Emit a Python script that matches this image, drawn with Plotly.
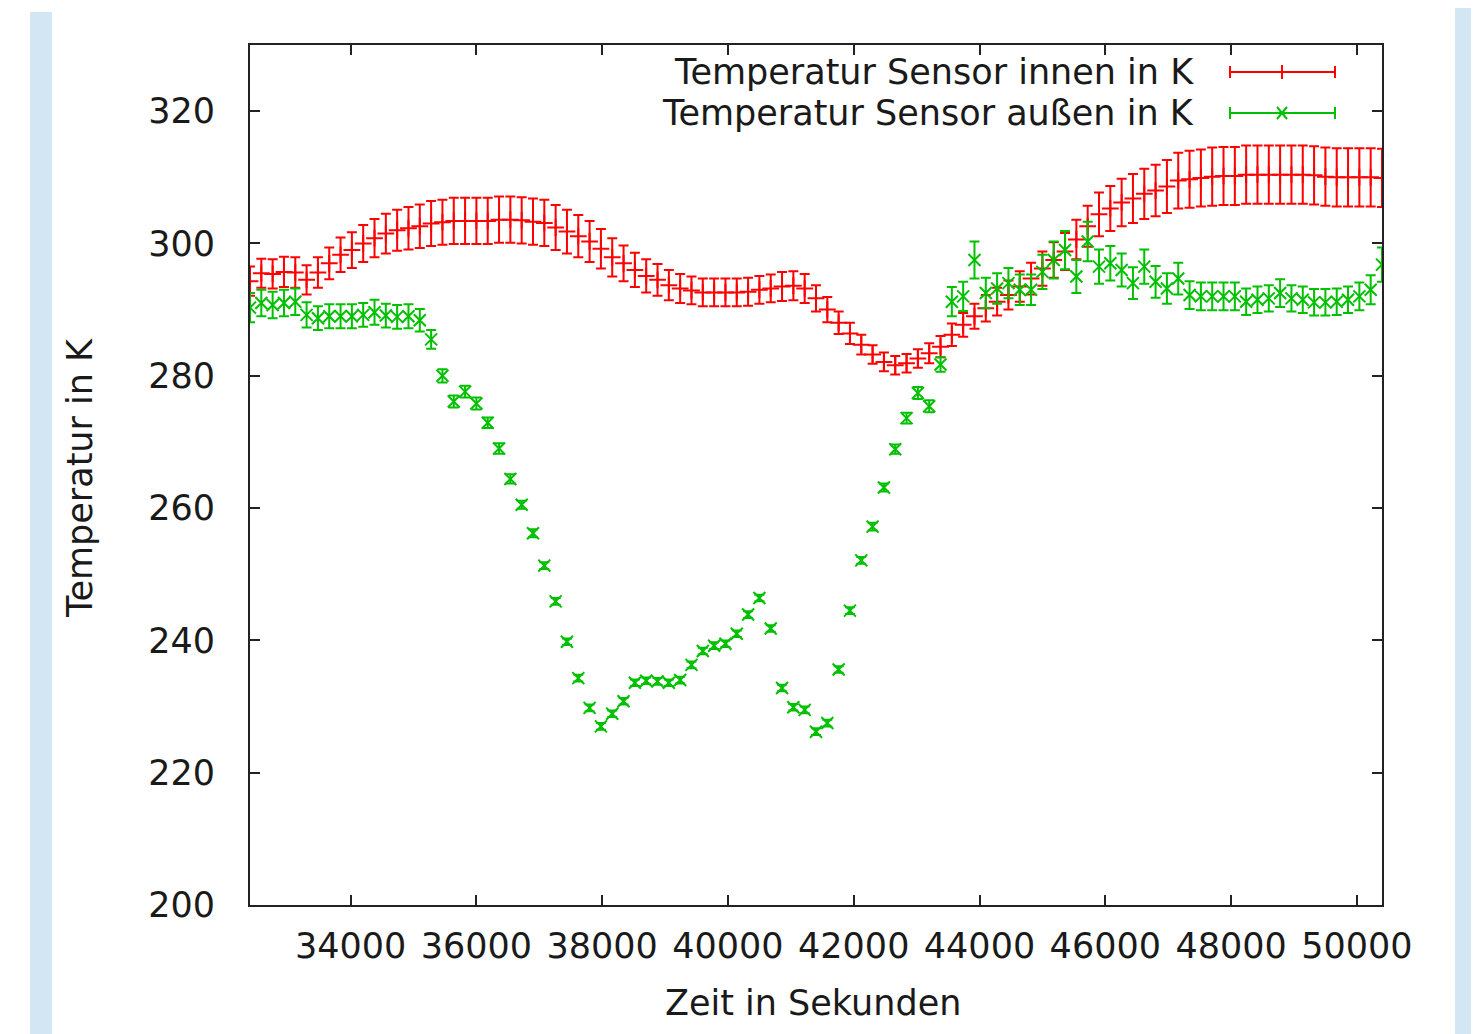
import plotly.graph_objects as go

# ---- data ----
zeit = [32400, 32580, 32760, 32940, 33120, 33300, 33480, 33660, 33840, 34020,
        34200, 34380, 34560, 34740, 34920, 35100, 35280, 35460, 35640, 35820,
        36000, 36180, 36360, 36540, 36720, 36900, 37080, 37260, 37440, 37620,
        37800, 37980, 38160, 38340, 38520, 38700, 38880, 39060, 39240, 39420,
        39600, 39780, 39960, 40140, 40320, 40500, 40680, 40860, 41040, 41220,
        41400, 41580, 41760, 41940, 42120, 42300, 42480, 42660, 42840, 43020,
        43200, 43380, 43560, 43740, 43920, 44100, 44280, 44460, 44640, 44820,
        45000, 45180, 45360, 45540, 45720, 45900, 46080, 46260, 46440, 46620,
        46800, 46980, 47160, 47340, 47520, 47700, 47880, 48060, 48240, 48420,
        48600, 48780, 48960, 49140, 49320, 49500, 49680, 49860, 50040, 50220,
        50400]

t_innen = [294.3, 295.5, 295.4, 295.7, 295.6, 294.5, 295.6, 297.0, 298.3, 299.0,
           300.0, 300.8, 301.5, 302.0, 302.3, 302.6, 303.0, 303.2, 303.4, 303.4,
           303.4, 303.4, 303.6, 303.6, 303.5, 303.3, 303.1, 302.4, 301.8, 301.1,
           300.3, 299.2, 297.9, 297.0, 296.0, 295.1, 294.5, 293.7, 293.2, 292.9,
           292.6, 292.6, 292.6, 292.6, 292.7, 293.0, 293.2, 293.5, 293.6, 293.2,
           291.7, 290.0, 288.0, 286.4, 284.7, 283.2, 282.1, 281.6, 281.9, 282.6,
           283.4, 284.4, 286.2, 287.7, 289.0, 290.2, 291.2, 292.2, 293.5, 294.7,
           296.2, 297.5, 298.8, 300.6, 302.6, 304.4, 305.3, 306.2, 306.8, 307.5,
           308.0, 308.6, 309.5, 309.7, 309.9, 310.1, 310.2, 310.2, 310.4, 310.4,
           310.4, 310.4, 310.4, 310.4, 310.3, 310.1, 310.0, 310.0, 310.0, 310.0,
           309.9]

err_innen = [2.2, 2.2, 2.2, 2.3, 2.3, 2.2, 2.3, 2.4, 2.6, 2.7,
             2.8, 2.9, 3.0, 3.1, 3.2, 3.3, 3.4, 3.4, 3.5, 3.5,
             3.5, 3.5, 3.5, 3.5, 3.5, 3.5, 3.5, 3.4, 3.3, 3.2,
             3.1, 3.0, 2.9, 2.7, 2.6, 2.5, 2.4, 2.3, 2.2, 2.1,
             2.1, 2.1, 2.1, 2.1, 2.1, 2.1, 2.1, 2.2, 2.2, 2.2,
             2.0, 1.9, 1.7, 1.6, 1.5, 1.4, 1.4, 1.4, 1.4, 1.4,
             1.5, 1.6, 1.7, 1.8, 1.9, 2.0, 2.1, 2.2, 2.3, 2.4,
             2.6, 2.7, 2.8, 3.0, 3.1, 3.3, 3.4, 3.6, 3.7, 3.8,
             3.9, 4.0, 4.2, 4.3, 4.3, 4.4, 4.4, 4.4, 4.4, 4.4,
             4.4, 4.4, 4.4, 4.4, 4.4, 4.4, 4.4, 4.4, 4.4, 4.4,
             4.4]

t_aussen = [290.3, 291.0, 290.7, 291.0, 291.2, 289.2, 288.7, 289.0, 289.0, 289.0,
            289.2, 289.6, 289.1, 288.9, 289.0, 288.4, 285.5, 280.0, 276.1, 277.6,
            275.8, 272.9, 269.0, 264.4, 260.5, 256.2, 251.3, 245.9, 239.8, 234.3,
            229.8, 227.0, 228.9, 230.8, 233.6, 233.9, 233.8, 233.6, 234.0, 236.3,
            238.4, 239.2, 239.5, 241.0, 243.9, 246.4, 241.8, 232.8, 229.9, 229.5,
            226.2, 227.5, 235.6, 244.5, 252.1, 257.2, 263.1, 268.9, 273.6, 277.4,
            275.4, 281.7, 291.2, 292.0, 297.5, 292.5, 293.2, 294.0, 293.0, 293.0,
            295.7, 297.5, 299.0, 295.0, 300.3, 296.5, 297.0, 296.0, 294.0, 296.5,
            294.2, 293.2, 294.7, 292.2, 292.0, 292.0, 292.0, 292.0, 291.2, 291.5,
            291.7, 292.5, 291.7, 291.5, 291.1, 291.1, 291.2, 291.5, 292.0, 293.0,
            296.8]

err_aussen = [2.2, 2.0, 2.0, 2.0, 2.0, 1.9, 1.8, 1.8, 1.8, 1.8,
              1.8, 1.9, 1.8, 1.8, 1.8, 1.7, 1.4, 1.0, 0.9, 0.9,
              0.9, 0.8, 0.8, 0.7, 0.6, 0.6, 0.5, 0.5, 0.5, 0.5,
              0.5, 0.5, 0.5, 0.5, 0.5, 0.5, 0.5, 0.5, 0.5, 0.5,
              0.5, 0.5, 0.5, 0.5, 0.5, 0.5, 0.5, 0.5, 0.5, 0.5,
              0.5, 0.5, 0.5, 0.5, 0.5, 0.6, 0.6, 0.7, 0.8, 0.9,
              0.9, 1.1, 2.2, 2.2, 2.8, 2.3, 2.3, 2.3, 2.3, 2.3,
              2.6, 2.8, 2.9, 2.5, 3.0, 2.6, 2.6, 2.5, 2.4, 2.6,
              2.4, 2.3, 2.4, 2.1, 2.1, 2.1, 2.1, 2.1, 2.0, 2.0,
              2.0, 2.1, 2.0, 2.0, 2.0, 2.0, 2.0, 2.0, 2.1, 2.2,
              2.6]

x_ticks = [34000, 36000, 38000, 40000, 42000, 44000, 46000, 48000, 50000]
y_ticks = [200, 220, 240, 260, 280, 300, 320]

label_innen = "Temperatur Sensor innen in K"
label_aussen = "Temperatur Sensor außen in K"
x_title = "Zeit in Sekunden"
y_title = "Temperatur in K"

# ---- styling ----
RED = "#ff0000"
GREEN = "#00c000"
TXT = "#1a1a1a"
FONT = "DejaVu Sans"
FS = 35
OFF = 8                       # page body margin of the html page
W, H = 1479 - OFF, 1034 - OFF
L, R, T, B = 250 - OFF, 1382 - OFF, 45 - OFF, 905 - OFF  # plot area (figure px)
LW = 2


def px(x):
    """page pixel x -> paper coordinate"""
    return (x - OFF - L) / (R - L)


def py(y):
    """page pixel y -> paper coordinate"""
    return (B - (y - OFF)) / (B - T)


fig = go.Figure()

fig.add_trace(go.Scatter(
    x=zeit, y=t_innen, mode="markers", name=label_innen,
    marker=dict(symbol="cross-thin", size=12, color=RED,
                line=dict(color=RED, width=LW)),
    error_y=dict(type="data", array=err_innen, visible=True,
                 color=RED, thickness=LW, width=5),
    showlegend=False,
))

fig.add_trace(go.Scatter(
    x=zeit, y=t_aussen, mode="markers", name=label_aussen,
    marker=dict(symbol="x-thin", size=12, color=GREEN,
                line=dict(color=GREEN, width=LW)),
    error_y=dict(type="data", array=err_aussen, visible=True,
                 color=GREEN, thickness=LW, width=5),
    showlegend=False,
))

shapes = []
# light blue side bands of the page
band = "#d3e6f4"
shapes.append(dict(type="rect", xref="paper", yref="paper",
                   x0=px(30), x1=px(52), y0=py(1034), y1=py(12),
                   fillcolor=band, line=dict(width=0), layer="below"))
shapes.append(dict(type="rect", xref="paper", yref="paper",
                   x0=px(1455), x1=px(1479), y0=py(1034), y1=py(OFF),
                   fillcolor=band, line=dict(width=0), layer="below"))

# key samples (gnuplot style: text left, sample right)
annotations = []
for ky, col, lab, sym in [(72, RED, label_innen, "+"), (113, GREEN, label_aussen, "x")]:
    annotations.append(dict(text=lab, xref="paper", yref="paper",
                            x=px(1196), y=py(ky), xanchor="right", yanchor="middle",
                            showarrow=False, font=dict(family=FONT, size=FS, color=TXT)))
    shapes.append(dict(type="line", xref="paper", yref="paper",
                       x0=px(1230), x1=px(1335), y0=py(ky), y1=py(ky),
                       line=dict(color=col, width=LW)))
    for cx in (1230, 1335):
        shapes.append(dict(type="line", xref="paper", yref="paper",
                           x0=px(cx), x1=px(cx), y0=py(ky - 6), y1=py(ky + 6),
                           line=dict(color=col, width=LW)))
    if sym == "+":
        shapes.append(dict(type="line", xref="paper", yref="paper",
                           x0=px(1282), x1=px(1282), y0=py(ky - 7), y1=py(ky + 7),
                           line=dict(color=col, width=LW)))
    else:
        shapes.append(dict(type="line", xref="paper", yref="paper",
                           x0=px(1277), x1=px(1287), y0=py(ky - 6), y1=py(ky + 6),
                           line=dict(color=col, width=LW)))
        shapes.append(dict(type="line", xref="paper", yref="paper",
                           x0=px(1277), x1=px(1287), y0=py(ky + 6), y1=py(ky - 6),
                           line=dict(color=col, width=LW)))

annotations.append(dict(text=x_title, xref="paper", yref="paper",
                        x=px(813), y=py(1003), xanchor="center", yanchor="middle",
                        showarrow=False, font=dict(family=FONT, size=FS, color=TXT)))
annotations.append(dict(text=y_title, xref="paper", yref="paper",
                        x=px(80), y=py(478), xanchor="center", yanchor="middle",
                        textangle=-90, showarrow=False,
                        font=dict(family=FONT, size=FS, color=TXT)))

axis_common = dict(
    showline=True, linecolor="#222", linewidth=2, mirror="ticks",
    ticks="inside", ticklen=10, tickwidth=2, tickcolor="#222",
    showgrid=False, zeroline=False,
    tickfont=dict(family=FONT, size=FS, color=TXT),
)

fig.update_layout(
    width=W, height=H, autosize=False,
    margin=dict(l=L, r=W - R, t=T, b=H - B, pad=0),
    paper_bgcolor="white", plot_bgcolor="white",
    xaxis=dict(range=[32400, 50400], tickmode="array", tickvals=x_ticks,
               ticktext=[str(v) for v in x_ticks], ticklabelstandoff=9,
               **axis_common),
    yaxis=dict(range=[200, 330], tickmode="array", tickvals=y_ticks,
               ticktext=[str(v) for v in y_ticks], ticklabelstandoff=26,
               **axis_common),
    shapes=shapes, annotations=annotations,
    showlegend=False,
)

fig.write_html("out.html")
